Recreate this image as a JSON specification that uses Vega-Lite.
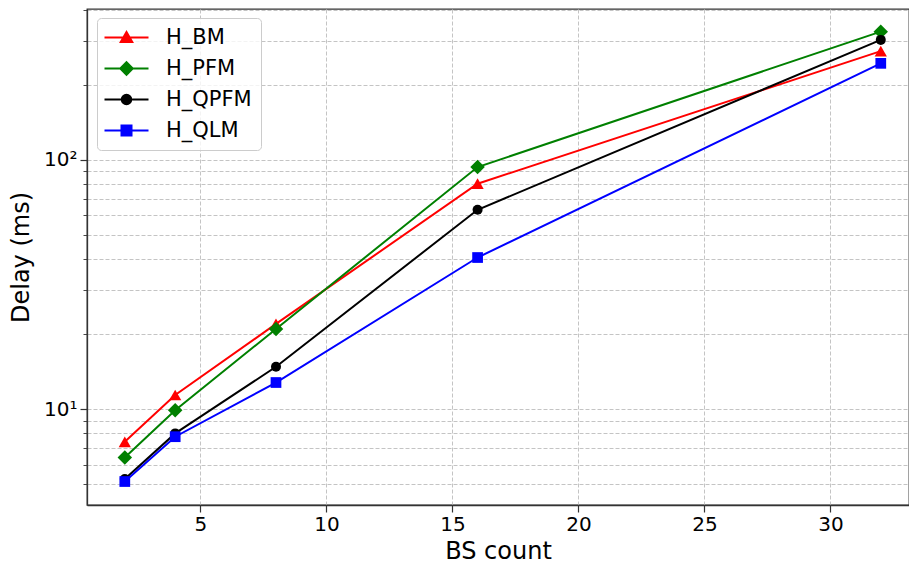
{
  "$schema": "https://vega.github.io/schema/vega-lite/v6.json",
  "width": 822,
  "height": 496,
  "autosize": "none",
  "padding": {"left": 87, "top": 9, "right": 0, "bottom": 62},
  "background": "white",
  "config": {
    "font": "DejaVu Sans",
    "view": {"stroke": "#333333", "strokeWidth": 1.3},
    "axis": {
      "labelFont": "DejaVu Sans",
      "titleFont": "DejaVu Sans",
      "labelColor": "#000000",
      "titleColor": "#000000",
      "labelFontSize": 20,
      "titleFontSize": 24,
      "titleFontWeight": "normal",
      "domainColor": "#333333",
      "domainWidth": 1.3,
      "tickColor": "#333333",
      "gridColor": "#c4c4c4",
      "gridDash": [4, 2],
      "gridWidth": 1
    }
  },
  "data": {
    "values": [
      {"bs": 2, "delay": 7.4, "series": "H_BM"},
      {"bs": 4, "delay": 11.4, "series": "H_BM"},
      {"bs": 8, "delay": 22.0, "series": "H_BM"},
      {"bs": 16, "delay": 80.3, "series": "H_BM"},
      {"bs": 32, "delay": 273, "series": "H_BM"},
      {"bs": 2, "delay": 6.4, "series": "H_PFM"},
      {"bs": 4, "delay": 9.9, "series": "H_PFM"},
      {"bs": 8, "delay": 21.0, "series": "H_PFM"},
      {"bs": 16, "delay": 93.6, "series": "H_PFM"},
      {"bs": 32, "delay": 327, "series": "H_PFM"},
      {"bs": 2, "delay": 5.25, "series": "H_QPFM"},
      {"bs": 4, "delay": 8.0, "series": "H_QPFM"},
      {"bs": 8, "delay": 14.8, "series": "H_QPFM"},
      {"bs": 16, "delay": 63.1, "series": "H_QPFM"},
      {"bs": 32, "delay": 303, "series": "H_QPFM"},
      {"bs": 2, "delay": 5.13, "series": "H_QLM"},
      {"bs": 4, "delay": 7.76, "series": "H_QLM"},
      {"bs": 8, "delay": 12.8, "series": "H_QLM"},
      {"bs": 16, "delay": 40.6, "series": "H_QLM"},
      {"bs": 32, "delay": 244, "series": "H_QLM"}
    ]
  },
  "encoding": {
    "x": {
      "field": "bs",
      "type": "quantitative",
      "scale": {"domain": [0.5, 33.12], "nice": false, "zero": false},
      "axis": {
        "title": "BS count",
        "values": [5, 10, 15, 20, 25, 30],
        "grid": true,
        "tickSize": 7,
        "tickWidth": 1.2,
        "labelPadding": 2,
        "titlePadding": 5
      }
    },
    "y": {
      "field": "delay",
      "type": "quantitative",
      "scale": {"type": "log", "domain": [4.13, 403], "nice": false},
      "axis": {
        "title": "Delay (ms)",
        "values": [5, 6, 7, 8, 9, 10, 20, 30, 40, 50, 60, 70, 80, 90, 100, 200, 300, 400],
        "labelExpr": "datum.value == 10 ? '10¹' : datum.value == 100 ? '10²' : ''",
        "grid": true,
        "tickSize": {"condition": {"test": "datum.value == 10 || datum.value == 100", "value": 7}, "value": 4},
        "tickWidth": {"condition": {"test": "datum.value == 10 || datum.value == 100", "value": 1.2}, "value": 0.9},
        "labelPadding": 3,
        "titlePadding": 10
      }
    }
  },
  "layer": [
    {
      "mark": {"type": "line", "strokeWidth": 2},
      "encoding": {
        "color": {
          "field": "series",
          "type": "nominal",
          "scale": {"domain": ["H_BM", "H_PFM", "H_QPFM", "H_QLM"], "range": ["#ff0000", "#008000", "#000000", "#0000ff"]},
          "legend": {
            "title": null,
            "orient": "none",
            "legendX": 10,
            "legendY": 9,
            "padding": 9,
            "fillColor": "rgba(255,255,255,0.8)",
            "strokeColor": "#cccccc",
            "cornerRadius": 4,
            "labelFont": "DejaVu Sans",
            "labelFontSize": 21,
            "labelColor": "#000000",
            "labelOffset": 39,
            "rowPadding": 9,
            "symbolSize": 100,
            "symbolStrokeWidth": 2,
            "encode": {
              "symbols": {
                "update": {
                  "shape": {"signal": "datum.value === 'H_BM' ? 'M-2.4,0H6.4M2,-1.1L3.15,0.9L0.85,0.9Z' : datum.value === 'H_PFM' ? 'M-2.4,0H6.4M2,-1.25L3.25,0L2,1.25L0.75,0Z' : datum.value === 'H_QPFM' ? 'M-2.4,0H6.4M2.95,0A0.95,0.95 0 1,1 1.05,0A0.95,0.95 0 1,1 2.95,0Z' : 'M-2.4,0H6.4M1,-1H3V1H1Z'"},
                  "fill": {"scale": "color", "field": "value"},
                  "strokeWidth": {"value": 2},
                  "opacity": {"value": 1},
                  "size": {"value": 100}
                }
              }
            }
          }
        }
      }
    },
    {
      "transform": [{"filter": "datum.series === 'H_BM'"}],
      "mark": {"type": "point", "filled": true, "opacity": 1, "shape": "triangle-up", "size": 150, "color": "#ff0000"}
    },
    {
      "transform": [{"filter": "datum.series === 'H_PFM'"}],
      "mark": {"type": "point", "filled": true, "opacity": 1, "shape": "diamond", "size": 210, "color": "#008000"}
    },
    {
      "transform": [{"filter": "datum.series === 'H_QPFM'"}],
      "mark": {"type": "point", "filled": true, "opacity": 1, "shape": "circle", "size": 100, "color": "#000000"}
    },
    {
      "transform": [{"filter": "datum.series === 'H_QLM'"}],
      "mark": {"type": "point", "filled": true, "opacity": 1, "shape": "square", "size": 115, "color": "#0000ff"}
    }
  ]
}
